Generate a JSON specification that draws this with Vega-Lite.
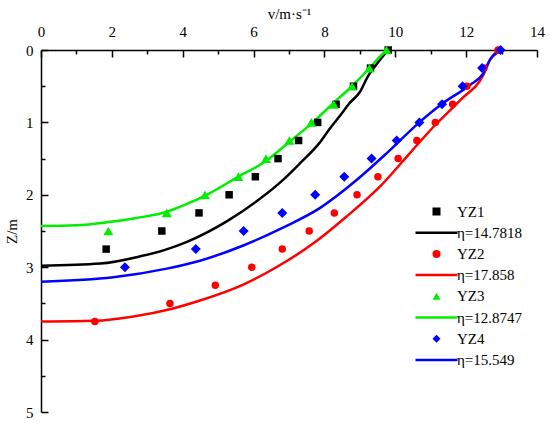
{
  "$schema": "https://vega.github.io/schema/vega-lite/v6.json",
  "width": 496,
  "height": 362,
  "autosize": {"type": "none"},
  "padding": {"left": 41, "top": 50, "right": 13, "bottom": 11},
  "background": "white",
  "config": {"view": {"stroke": null}, "font": "'Liberation Serif', 'DejaVu Serif', serif"},
  "data": {
    "values": [
      {"series": "YZ1", "kind": "point", "z": 0, "v": 9.8},
      {"series": "YZ1", "kind": "point", "z": 0.25, "v": 9.3},
      {"series": "YZ1", "kind": "point", "z": 0.5, "v": 8.82},
      {"series": "YZ1", "kind": "point", "z": 0.75, "v": 8.33},
      {"series": "YZ1", "kind": "point", "z": 1.0, "v": 7.81},
      {"series": "YZ1", "kind": "point", "z": 1.25, "v": 7.27},
      {"series": "YZ1", "kind": "point", "z": 1.5, "v": 6.69},
      {"series": "YZ1", "kind": "point", "z": 1.75, "v": 6.05},
      {"series": "YZ1", "kind": "point", "z": 2.0, "v": 5.31},
      {"series": "YZ1", "kind": "point", "z": 2.25, "v": 4.46},
      {"series": "YZ1", "kind": "point", "z": 2.5, "v": 3.41},
      {"series": "YZ1", "kind": "point", "z": 2.75, "v": 1.84},

      {"series": "YZ2", "kind": "point", "z": 0, "v": 12.9},
      {"series": "YZ2", "kind": "point", "z": 0.25, "v": 12.5},
      {"series": "YZ2", "kind": "point", "z": 0.5, "v": 12.02},
      {"series": "YZ2", "kind": "point", "z": 0.75, "v": 11.62},
      {"series": "YZ2", "kind": "point", "z": 1.0, "v": 11.13},
      {"series": "YZ2", "kind": "point", "z": 1.25, "v": 10.61},
      {"series": "YZ2", "kind": "point", "z": 1.5, "v": 10.08},
      {"series": "YZ2", "kind": "point", "z": 1.75, "v": 9.51},
      {"series": "YZ2", "kind": "point", "z": 2.0, "v": 8.92},
      {"series": "YZ2", "kind": "point", "z": 2.25, "v": 8.28},
      {"series": "YZ2", "kind": "point", "z": 2.5, "v": 7.57},
      {"series": "YZ2", "kind": "point", "z": 2.75, "v": 6.81},
      {"series": "YZ2", "kind": "point", "z": 3.0, "v": 5.95},
      {"series": "YZ2", "kind": "point", "z": 3.25, "v": 4.92},
      {"series": "YZ2", "kind": "point", "z": 3.5, "v": 3.64},
      {"series": "YZ2", "kind": "point", "z": 3.75, "v": 1.52},

      {"series": "YZ3", "kind": "point", "z": 0, "v": 9.75},
      {"series": "YZ3", "kind": "point", "z": 0.25, "v": 9.27},
      {"series": "YZ3", "kind": "point", "z": 0.5, "v": 8.78},
      {"series": "YZ3", "kind": "point", "z": 0.75, "v": 8.26},
      {"series": "YZ3", "kind": "point", "z": 1.0, "v": 7.63},
      {"series": "YZ3", "kind": "point", "z": 1.25, "v": 7.01},
      {"series": "YZ3", "kind": "point", "z": 1.5, "v": 6.35},
      {"series": "YZ3", "kind": "point", "z": 1.75, "v": 5.57},
      {"series": "YZ3", "kind": "point", "z": 2.0, "v": 4.63},
      {"series": "YZ3", "kind": "point", "z": 2.25, "v": 3.55},
      {"series": "YZ3", "kind": "point", "z": 2.5, "v": 1.9},

      {"series": "YZ4", "kind": "point", "z": 0, "v": 12.97},
      {"series": "YZ4", "kind": "point", "z": 0.25, "v": 12.45},
      {"series": "YZ4", "kind": "point", "z": 0.5, "v": 11.9},
      {"series": "YZ4", "kind": "point", "z": 0.75, "v": 11.32},
      {"series": "YZ4", "kind": "point", "z": 1.0, "v": 10.68},
      {"series": "YZ4", "kind": "point", "z": 1.25, "v": 10.04},
      {"series": "YZ4", "kind": "point", "z": 1.5, "v": 9.33},
      {"series": "YZ4", "kind": "point", "z": 1.75, "v": 8.56},
      {"series": "YZ4", "kind": "point", "z": 2.0, "v": 7.74},
      {"series": "YZ4", "kind": "point", "z": 2.25, "v": 6.81},
      {"series": "YZ4", "kind": "point", "z": 2.5, "v": 5.72},
      {"series": "YZ4", "kind": "point", "z": 2.75, "v": 4.37},
      {"series": "YZ4", "kind": "point", "z": 3.0, "v": 2.37},

      {"series": "η=14.7818", "kind": "line", "v": 0, "z": 2.98},
      {"series": "η=14.7818", "kind": "line", "v": 1.67, "z": 2.95},
      {"series": "η=14.7818", "kind": "line", "v": 2.8, "z": 2.85},
      {"series": "η=14.7818", "kind": "line", "v": 3.5, "z": 2.76},
      {"series": "η=14.7818", "kind": "line", "v": 4.12, "z": 2.65},
      {"series": "η=14.7818", "kind": "line", "v": 5.3, "z": 2.35},
      {"series": "η=14.7818", "kind": "line", "v": 6.14, "z": 2.07},
      {"series": "η=14.7818", "kind": "line", "v": 6.84, "z": 1.79},
      {"series": "η=14.7818", "kind": "line", "v": 7.32, "z": 1.56},
      {"series": "η=14.7818", "kind": "line", "v": 7.85, "z": 1.29},
      {"series": "η=14.7818", "kind": "line", "v": 8.16, "z": 1.08},
      {"series": "η=14.7818", "kind": "line", "v": 8.45, "z": 0.9},
      {"series": "η=14.7818", "kind": "line", "v": 8.7, "z": 0.74},
      {"series": "η=14.7818", "kind": "line", "v": 9.0, "z": 0.58},
      {"series": "η=14.7818", "kind": "line", "v": 9.22, "z": 0.37},
      {"series": "η=14.7818", "kind": "line", "v": 9.53, "z": 0.16},
      {"series": "η=14.7818", "kind": "line", "v": 9.8, "z": 0},

      {"series": "η=17.858", "kind": "line", "v": 0, "z": 3.75},
      {"series": "η=17.858", "kind": "line", "v": 1.53, "z": 3.74},
      {"series": "η=17.858", "kind": "line", "v": 2.61, "z": 3.68},
      {"series": "η=17.858", "kind": "line", "v": 3.64, "z": 3.58},
      {"series": "η=17.858", "kind": "line", "v": 4.49, "z": 3.46},
      {"series": "η=17.858", "kind": "line", "v": 5.71, "z": 3.24},
      {"series": "η=17.858", "kind": "line", "v": 6.75, "z": 2.97},
      {"series": "η=17.858", "kind": "line", "v": 7.69, "z": 2.67},
      {"series": "η=17.858", "kind": "line", "v": 8.6, "z": 2.31},
      {"series": "η=17.858", "kind": "line", "v": 9.6, "z": 1.87},
      {"series": "η=17.858", "kind": "line", "v": 10.42, "z": 1.42},
      {"series": "η=17.858", "kind": "line", "v": 11.08, "z": 1.06},
      {"series": "η=17.858", "kind": "line", "v": 11.84, "z": 0.69},
      {"series": "η=17.858", "kind": "line", "v": 12.49, "z": 0.34},
      {"series": "η=17.858", "kind": "line", "v": 12.68, "z": 0.13},
      {"series": "η=17.858", "kind": "line", "v": 12.82, "z": 0.04},
      {"series": "η=17.858", "kind": "line", "v": 12.95, "z": 0},

      {"series": "η=12.8747", "kind": "line", "v": 0, "z": 2.43},
      {"series": "η=12.8747", "kind": "line", "v": 1.0, "z": 2.42},
      {"series": "η=12.8747", "kind": "line", "v": 1.86, "z": 2.38},
      {"series": "η=12.8747", "kind": "line", "v": 2.7, "z": 2.32},
      {"series": "η=12.8747", "kind": "line", "v": 3.58, "z": 2.23},
      {"series": "η=12.8747", "kind": "line", "v": 4.1, "z": 2.13},
      {"series": "η=12.8747", "kind": "line", "v": 4.68, "z": 2.0},
      {"series": "η=12.8747", "kind": "line", "v": 5.57, "z": 1.75},
      {"series": "η=12.8747", "kind": "line", "v": 6.33, "z": 1.54},
      {"series": "η=12.8747", "kind": "line", "v": 7.03, "z": 1.26},
      {"series": "η=12.8747", "kind": "line", "v": 7.65, "z": 1.01},
      {"series": "η=12.8747", "kind": "line", "v": 8.26, "z": 0.73},
      {"series": "η=12.8747", "kind": "line", "v": 8.82, "z": 0.48},
      {"series": "η=12.8747", "kind": "line", "v": 9.27, "z": 0.25},
      {"series": "η=12.8747", "kind": "line", "v": 9.72, "z": 0.03},
      {"series": "η=12.8747", "kind": "line", "v": 9.9, "z": 0},

      {"series": "η=15.549", "kind": "line", "v": 0, "z": 3.2},
      {"series": "η=15.549", "kind": "line", "v": 2.04, "z": 3.14},
      {"series": "η=15.549", "kind": "line", "v": 3.55, "z": 3.02},
      {"series": "η=15.549", "kind": "line", "v": 4.49, "z": 2.91},
      {"series": "η=15.549", "kind": "line", "v": 5.71, "z": 2.7},
      {"series": "η=15.549", "kind": "line", "v": 6.8, "z": 2.46},
      {"series": "η=15.549", "kind": "line", "v": 7.88, "z": 2.18},
      {"series": "η=15.549", "kind": "line", "v": 8.9, "z": 1.8},
      {"series": "η=15.549", "kind": "line", "v": 9.77, "z": 1.42},
      {"series": "η=15.549", "kind": "line", "v": 10.61, "z": 1.03},
      {"series": "η=15.549", "kind": "line", "v": 11.36, "z": 0.73},
      {"series": "η=15.549", "kind": "line", "v": 12.12, "z": 0.48},
      {"series": "η=15.549", "kind": "line", "v": 12.49, "z": 0.32},
      {"series": "η=15.549", "kind": "line", "v": 12.68, "z": 0.13},
      {"series": "η=15.549", "kind": "line", "v": 12.87, "z": 0.04},
      {"series": "η=15.549", "kind": "line", "v": 13.0, "z": 0}
    ]
  },
  "encoding": {
    "x": {
      "field": "v",
      "type": "quantitative",
      "scale": {"domain": [0, 14], "nice": false, "zero": false},
      "axis": {
        "orient": "top",
        "title": "v/m·s⁻¹",
        "titleFont": "'Liberation Serif', serif",
        "titleFontSize": 15,
        "titleFontWeight": "normal",
        "titleColor": "black",
        "titlePadding": 0,
        "values": [0, 1, 2, 3, 4, 5, 6, 7, 8, 9, 10, 11, 12, 13, 14],
        "labelExpr": "datum.value % 2 === 0 ? format(datum.value, 'd') : ''",
        "labelFont": "'Liberation Serif', serif",
        "labelFontSize": 15,
        "labelColor": "black",
        "labelPadding": 18,
        "labelFlush": false,
        "labelOverlap": false,
        "grid": false,
        "domainColor": "black",
        "domainWidth": 1.5,
        "tickColor": "black",
        "tickWidth": 1.5,
        "tickSize": {"condition": {"test": "datum.value % 2 === 0", "value": -7}, "value": -4}
      }
    },
    "y": {
      "field": "z",
      "type": "quantitative",
      "scale": {"domain": [0, 5], "reverse": true, "nice": false, "zero": false},
      "axis": {
        "title": "Z/m",
        "titleFont": "'Liberation Serif', serif",
        "titleFontSize": 15,
        "titleFontWeight": "normal",
        "titleColor": "black",
        "titlePadding": 6,
        "values": [0, 0.5, 1, 1.5, 2, 2.5, 3, 3.5, 4, 4.5, 5],
        "labelExpr": "datum.value % 1 === 0 ? format(datum.value, 'd') : ''",
        "labelFont": "'Liberation Serif', serif",
        "labelFontSize": 15,
        "labelColor": "black",
        "labelPadding": 15,
        "labelFlush": false,
        "labelOverlap": false,
        "grid": false,
        "domainColor": "black",
        "domainWidth": 1.5,
        "tickColor": "black",
        "tickWidth": 1.5,
        "tickSize": {"condition": {"test": "datum.value % 1 === 0", "value": -7}, "value": -4}
      }
    },
    "color": {
      "field": "series",
      "type": "nominal",
      "scale": {
        "domain": ["YZ1", "η=14.7818", "YZ2", "η=17.858", "YZ3", "η=12.8747", "YZ4", "η=15.549"],
        "range": ["#000000", "#000000", "#ff0000", "#ff0000", "#00ee00", "#00ee00", "#0000ff", "#0000ff"]
      },
      "legend": {
        "title": null,
        "orient": "none",
        "legendX": 388,
        "legendY": 154,
        "padding": 0,
        "symbolSize": 64,
        "symbolOpacity": 1,
        "labelFont": "'Liberation Serif', serif",
        "labelFontSize": 15,
        "labelColor": "black",
        "labelOffset": 13,
        "rowPadding": 5.2,
        "labelLimit": 200,
        "encode": {
          "symbols": {"update": {
            "stroke": {"scale": "color", "field": "value"},
            "strokeWidth": {"signal": "indexof(['YZ1', 'YZ2', 'YZ3', 'YZ4'], datum.value) >= 0 ? 0 : 2.5"}
          }}
        }
      }
    },
    "shape": {
      "field": "series",
      "type": "nominal",
      "scale": {
        "domain": ["YZ1", "η=14.7818", "YZ2", "η=17.858", "YZ3", "η=12.8747", "YZ4", "η=15.549"],
        "range": ["square", "M-5.25,0H5.25", "circle", "M-5.25,0H5.25", "triangle-up", "M-5.25,0H5.25", "diamond", "M-5.25,0H5.25"]
      },
      "legend": {
        "title": null,
        "orient": "none",
        "legendX": 388,
        "legendY": 154,
        "padding": 0,
        "symbolSize": 64,
        "symbolOpacity": 1,
        "labelFont": "'Liberation Serif', serif",
        "labelFontSize": 15,
        "labelColor": "black",
        "labelOffset": 13,
        "rowPadding": 5.2,
        "labelLimit": 200,
        "encode": {
          "symbols": {"update": {
            "stroke": {"scale": "color", "field": "value"},
            "strokeWidth": {"signal": "indexof(['YZ1', 'YZ2', 'YZ3', 'YZ4'], datum.value) >= 0 ? 0 : 2.5"}
          }}
        }
      }
    }
  },
  "layer": [
    {
      "transform": [{"filter": "datum.kind === 'line'"}],
      "mark": {"type": "line", "strokeWidth": 2.5, "interpolate": "monotone", "clip": true}
    },
    {
      "transform": [{"filter": "datum.series === 'YZ1' || datum.series === 'YZ2'"}],
      "mark": {"type": "point", "filled": true, "opacity": 1, "size": 56}
    },
    {
      "transform": [{"filter": "datum.series === 'YZ3' || datum.series === 'YZ4'"}],
      "mark": {"type": "point", "filled": true, "opacity": 1, "size": 100}
    }
  ]
}
